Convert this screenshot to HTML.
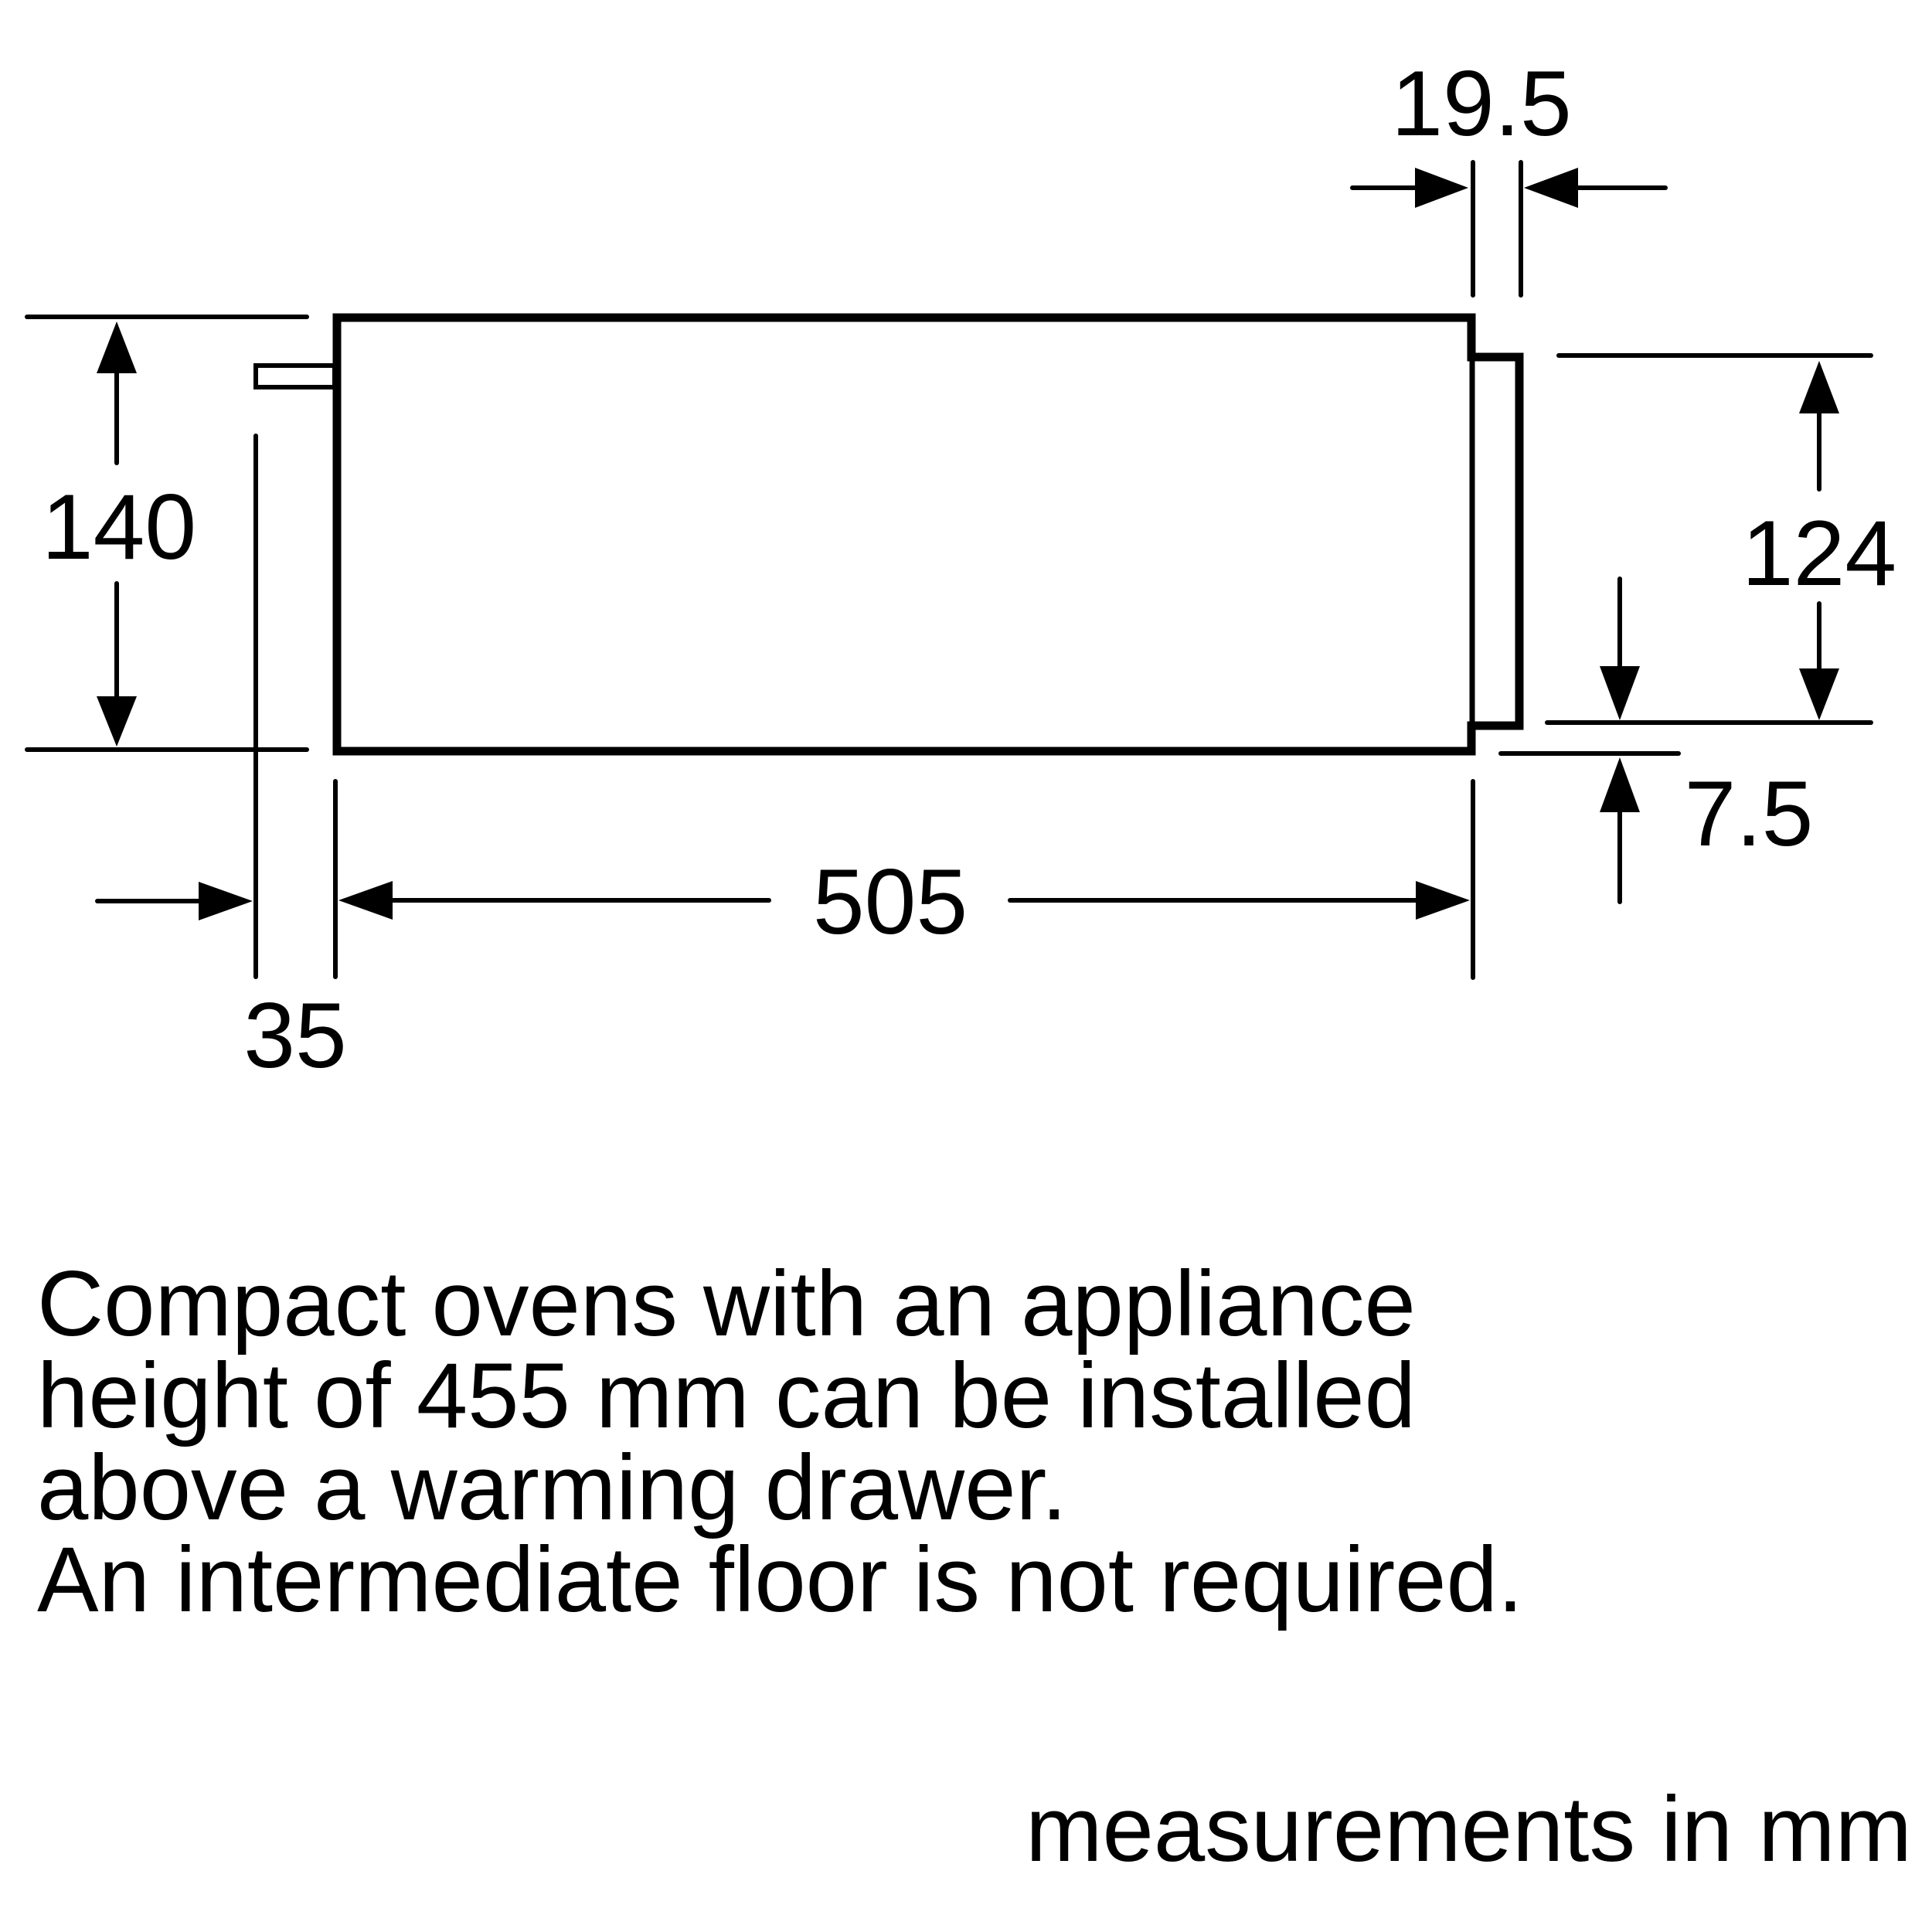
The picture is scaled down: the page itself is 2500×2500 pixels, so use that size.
<!DOCTYPE html>
<html>
<head>
<meta charset="utf-8">
<style>
  html, body { margin: 0; padding: 0; background: #fff; }
  svg { display: block; }
  text { font-family: "Liberation Sans", Arial, sans-serif; fill: #000; }
</style>
</head>
<body>
<svg width="2500" height="2500" viewBox="0 0 2500 2500" xmlns="http://www.w3.org/2000/svg">
  <rect width="2500" height="2500" fill="#fff"/>

  <!-- Main body outline with right panel step -->
  <path d="M436 411 L1904 411 L1904 462 L1966 462 L1966 939 L1904 939 L1904 972 L436 972 Z"
        fill="none" stroke="#000" stroke-width="11" stroke-linejoin="miter"/>
  <!-- inner line of panel -->
  <line x1="1905" y1="462" x2="1905" y2="939" stroke="#000" stroke-width="7"/>

  <!-- handle at left -->
  <rect x="331" y="473" width="102" height="28" fill="none" stroke="#000" stroke-width="6"/>

  <g stroke="#000" stroke-width="6" stroke-linecap="round" fill="none">
    <!-- 140 extension lines -->
    <line x1="35" y1="410" x2="397" y2="410"/>
    <line x1="35" y1="970" x2="397" y2="970"/>
    <!-- 140 arrow shafts -->
    <line x1="151" y1="480" x2="151" y2="599"/>
    <line x1="151" y1="755" x2="151" y2="904"/>

    <!-- vertical line at x=331 -->
    <line x1="331" y1="564" x2="331" y2="1264"/>
    <!-- vertical line at x=434 -->
    <line x1="434" y1="1011" x2="434" y2="1264"/>
    <!-- vertical line at x=1906 (505 right) -->
    <line x1="1906" y1="1011" x2="1906" y2="1265"/>

    <!-- 35 arrow shaft -->
    <line x1="126" y1="1166" x2="260" y2="1166"/>

    <!-- 505 shafts -->
    <line x1="505" y1="1165" x2="995" y2="1165"/>
    <line x1="1307" y1="1165" x2="1834" y2="1165"/>

    <!-- 19.5 extension lines -->
    <line x1="1906" y1="210" x2="1906" y2="382"/>
    <line x1="1968" y1="210" x2="1968" y2="382"/>
    <!-- 19.5 shafts -->
    <line x1="1750" y1="243" x2="1834" y2="243"/>
    <line x1="2040" y1="243" x2="2155" y2="243"/>

    <!-- 124 extension lines -->
    <line x1="2017" y1="460" x2="2421" y2="460"/>
    <line x1="2002" y1="935" x2="2421" y2="935"/>
    <!-- 124 shafts -->
    <line x1="2354" y1="533" x2="2354" y2="633"/>
    <line x1="2354" y1="781" x2="2354" y2="867"/>

    <!-- 7.5 extension line -->
    <line x1="1942" y1="975" x2="2172" y2="975"/>
    <!-- 7.5 shafts -->
    <line x1="2096" y1="749" x2="2096" y2="864"/>
    <line x1="2096" y1="1049" x2="2096" y2="1167"/>
  </g>

  <!-- Arrowheads -->
  <g fill="#000" stroke="none">
    <!-- 140 -->
    <polygon points="151,416 125,483 177,483"/>
    <polygon points="151,966 125,901 177,901"/>
    <!-- 35 -->
    <polygon points="327,1166 257,1141 257,1191"/>
    <!-- 505 -->
    <polygon points="438,1165 508,1140 508,1190"/>
    <polygon points="1902,1165 1832,1140 1832,1190"/>
    <!-- 19.5 -->
    <polygon points="1900,243 1831,217 1831,269"/>
    <polygon points="1972,243 2042,217 2042,269"/>
    <!-- 124 -->
    <polygon points="2354,467 2328,535 2380,535"/>
    <polygon points="2354,932 2328,865 2380,865"/>
    <!-- 7.5 -->
    <polygon points="2096,932 2070,862 2122,862"/>
    <polygon points="2096,980 2070,1051 2122,1051"/>
  </g>

  <!-- Dimension labels -->
  <g font-size="120" text-anchor="middle">
    <text x="154" y="723">140</text>
    <text x="382" y="1381">35</text>
    <text x="1152" y="1208">505</text>
    <text x="1917" y="175">19.5</text>
    <text x="2354" y="757">124</text>
    <text x="2263" y="1094">7.5</text>
  </g>

  <!-- Paragraph text -->
  <g font-size="119.3">
    <text x="48" y="1728">Compact ovens with an appliance</text>
    <text x="48" y="1847">height of 455 mm can be installed</text>
    <text x="48" y="1966">above a warming drawer.</text>
    <text x="48" y="2085">An intermediate floor is not required.</text>
  </g>

  <text x="2474" y="2408" font-size="119.3" text-anchor="end">measurements in mm</text>
</svg>
</body>
</html>
